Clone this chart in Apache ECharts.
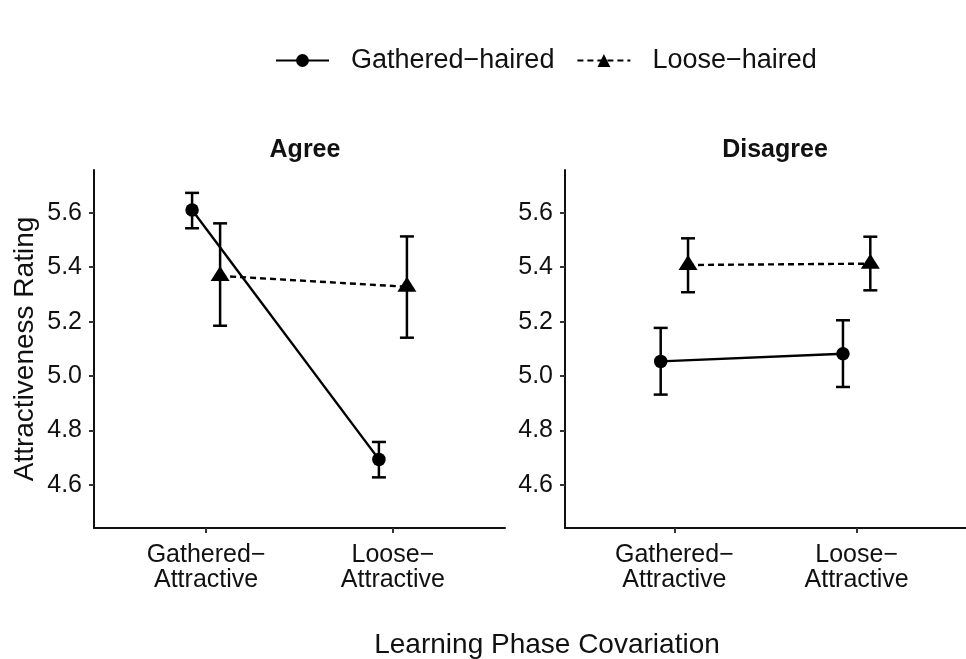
<!DOCTYPE html>
<html>
<head>
<meta charset="utf-8">
<script src="https://cdn.jsdelivr.net/npm/echarts@6/dist/echarts.min.js"></script>
<style>html,body{margin:0;padding:0;background:#fff;}#chart{width:966px;height:659px;}</style>
</head>
<body>
<div id="chart"></div>
<script>
// ---- Data ----
const categories = ['Gathered\u2212\nAttractive', 'Loose\u2212\nAttractive'];
const panels = ['Agree', 'Disagree'];
const groups = ['Gathered\u2212haired', 'Loose\u2212haired'];
const yTicks = [4.6, 4.8, 5.0, 5.2, 5.4, 5.6];

// Agree panel
const agreeGatheredMean = [5.610, 4.694];
const agreeGatheredLow  = [5.543, 4.628];
const agreeGatheredHigh = [5.673, 4.758];
const agreeLooseMean = [5.368, 5.328];
const agreeLooseLow  = [5.185, 5.141];
const agreeLooseHigh = [5.561, 5.513];

// Disagree panel
const disagreeGatheredMean = [5.054, 5.082];
const disagreeGatheredLow  = [4.932, 4.960];
const disagreeGatheredHigh = [5.177, 5.205];
const disagreeLooseMean = [5.408, 5.413];
const disagreeLooseLow  = [5.308, 5.315];
const disagreeLooseHigh = [5.506, 5.512];

// ---- Build ----
const FONT = 'Liberation Sans, Arial, Helvetica, sans-serif';
const dodge = 0.075;
const panelData = [
  { means: [agreeGatheredMean, agreeLooseMean], lows: [agreeGatheredLow, agreeLooseLow], highs: [agreeGatheredHigh, agreeLooseHigh] },
  { means: [disagreeGatheredMean, disagreeLooseMean], lows: [disagreeGatheredLow, disagreeLooseLow], highs: [disagreeGatheredHigh, disagreeLooseHigh] }
];
const offsets = [-dodge, dodge];
const lineStyles = [
  { color: '#000', width: 2.4, type: 'solid' },
  { color: '#000', width: 2.4, type: [6, 4] }
];
const symbols = ['circle', 'triangle'];
const symbolSizes = [13.5, [19, 15]];
const symbolOffsets = [[0, 0], [0, -2.5]];

const grids = [
  { left: 94, top: 170, width: 411, height: 358 },
  { left: 565, top: 170, width: 411, height: 358 }
];

const xAxes = panels.map((p, i) => ({
  type: 'value', gridIndex: i, min: 0.4, max: 2.6,
  axisLine: { show: true, lineStyle: { color: '#111', width: 2 } },
  axisTick: { show: true, customValues: [1, 2], length: 5, lineStyle: { color: '#333', width: 2 } },
  axisLabel: {
    customValues: [1, 2], margin: 15,
    formatter: v => categories[Math.round(v) - 1],
    color: '#111', fontSize: 25, lineHeight: 25, fontFamily: FONT
  },
  splitLine: { show: false }
}));

const yAxes = panels.map((p, i) => ({
  type: 'value', gridIndex: i, min: 4.442, max: 5.757,
  name: i === 0 ? 'Attractiveness Rating' : '',
  nameLocation: 'middle', nameGap: 55,
  nameTextStyle: { fontSize: 28, color: '#111', fontFamily: FONT },
  axisLine: { show: true, lineStyle: { color: '#111', width: 2 } },
  axisTick: { show: true, customValues: yTicks, length: 5, lineStyle: { color: '#333', width: 2 } },
  axisLabel: {
    customValues: yTicks, margin: 12,
    formatter: v => v.toFixed(1),
    color: '#111', fontSize: 25, fontFamily: FONT
  },
  splitLine: { show: false }
}));

const lineSeries = [];
const errSeries = [];
panels.forEach((p, pi) => {
  groups.forEach((g, gi) => {
    const pd = panelData[pi];
    lineSeries.push({
      type: 'line', name: g, xAxisIndex: pi, yAxisIndex: pi,
      data: categories.map((c, ci) => [ci + 1 + offsets[gi], pd.means[gi][ci]]),
      symbol: symbols[gi], symbolSize: symbolSizes[gi], symbolOffset: symbolOffsets[gi],
      showSymbol: true, z: 4,
      itemStyle: { color: '#000', borderWidth: 0 },
      lineStyle: lineStyles[gi],
      emphasis: { disabled: true },
      animation: false
    });
    errSeries.push({
      type: 'custom', name: g + ' error', xAxisIndex: pi, yAxisIndex: pi,
      silent: true, z: 3,
      data: categories.map((c, ci) => [ci + 1 + offsets[gi], pd.lows[gi][ci], pd.highs[gi][ci]]),
      encode: { x: 0, y: [1, 2] },
      renderItem: function (params, api) {
        const x = api.value(0);
        const lo = api.coord([x, api.value(1)]);
        const hi = api.coord([x, api.value(2)]);
        const w = 7;
        const st = { stroke: '#000', lineWidth: 2.5 };
        return {
          type: 'group', children: [
            { type: 'line', shape: { x1: lo[0], y1: lo[1], x2: hi[0], y2: hi[1] }, style: st },
            { type: 'line', shape: { x1: lo[0] - w, y1: lo[1], x2: lo[0] + w, y2: lo[1] }, style: st },
            { type: 'line', shape: { x1: hi[0] - w, y1: hi[1], x2: hi[0] + w, y2: hi[1] }, style: st }
          ]
        };
      }
    });
  });
});

const option = {
  animation: false,
  backgroundColor: '#fff',
  textStyle: { fontFamily: FONT },
  title: [
    { text: panels[0], left: 300, top: 133, textAlign: 'center', textStyle: { fontSize: 25, fontWeight: 'bold', color: '#111', fontFamily: FONT } },
    { text: panels[1], left: 770, top: 133, textAlign: 'center', textStyle: { fontSize: 25, fontWeight: 'bold', color: '#111', fontFamily: FONT } },
    { text: 'Learning Phase Covariation', left: 542, top: 626, textAlign: 'center', textStyle: { fontSize: 28, fontWeight: 'normal', color: '#111', fontFamily: FONT } }
  ],
  legend: {
    data: groups.map(g => ({ name: g })),
    left: 275, top: 47, padding: 0,
    itemWidth: 53, itemHeight: 16, itemGap: 22,
    selectedMode: false,
    textStyle: { fontSize: 27, color: '#111', fontFamily: FONT, padding: [0, 0, 0, 17] }
  },
  grid: grids,
  xAxis: xAxes,
  yAxis: yAxes,
  series: lineSeries.concat(errSeries)
};

const chart = echarts.init(document.getElementById('chart'), null, { renderer: 'canvas' });
chart.setOption(option);
</script>
</body>
</html>
